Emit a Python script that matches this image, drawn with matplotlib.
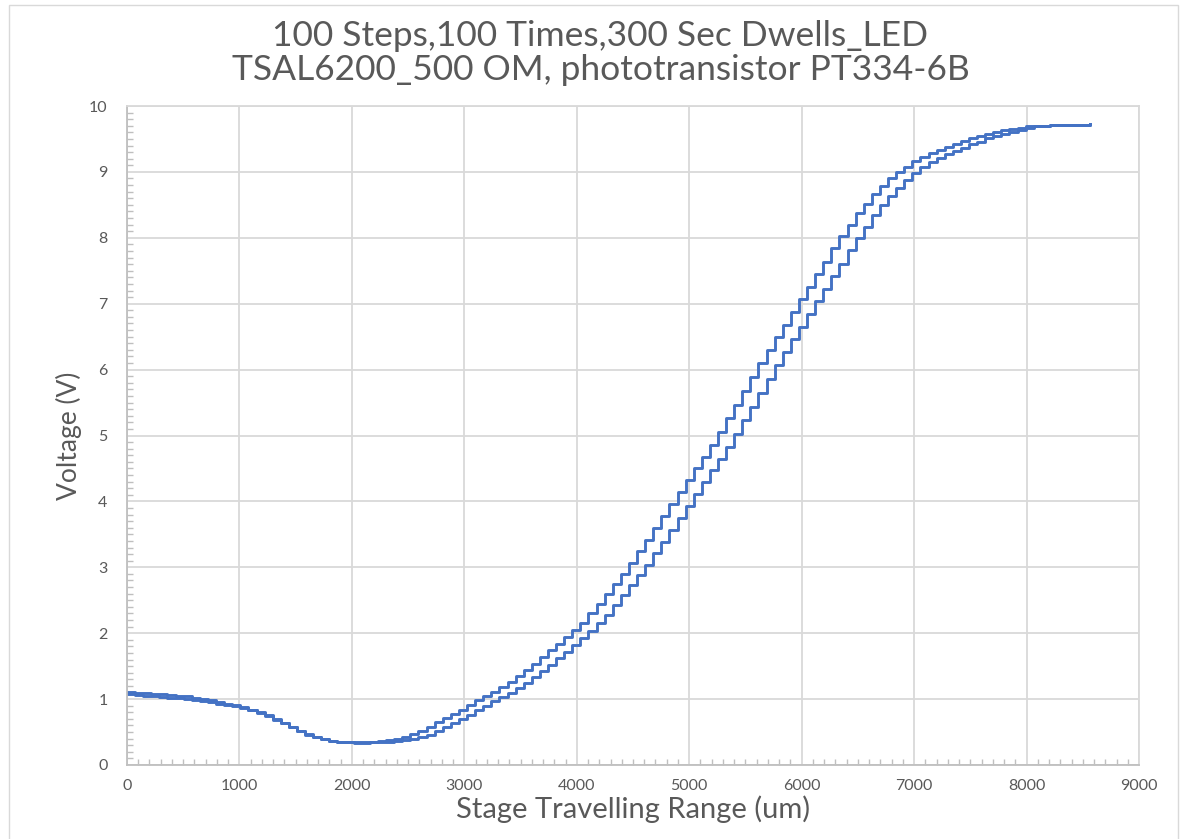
import numpy as np
import matplotlib
matplotlib.use('Agg')
import matplotlib.pyplot as plt
from matplotlib.patches import Rectangle
from matplotlib.ticker import MultipleLocator

# stage positions: one reading per stage step
step_um = 72
# voltage at each step, upper (left) curve
volt_a = [1.11, 1.10, 1.09, 1.08, 1.07, 1.06, 1.05, 1.04, 1.02, 1.00,
          0.98, 0.95, 0.93, 0.91, 0.88, 0.84, 0.80, 0.76, 0.70, 0.64,
          0.57, 0.51, 0.47, 0.42, 0.39, 0.37, 0.355, 0.347, 0.345, 0.348,
          0.355, 0.365, 0.38, 0.40, 0.43, 0.47, 0.52, 0.58, 0.65, 0.71,
          0.77, 0.84, 0.91, 0.98, 1.04, 1.11, 1.18, 1.26, 1.35, 1.44,
          1.54, 1.64, 1.74, 1.84, 1.94, 2.05, 2.16, 2.30, 2.45, 2.60,
          2.75, 2.90, 3.06, 3.24, 3.42, 3.60, 3.78, 3.96, 4.14, 4.32,
          4.50, 4.68, 4.86, 5.05, 5.26, 5.47, 5.68, 5.89, 6.10, 6.30,
          6.49, 6.68, 6.88, 7.07, 7.26, 7.45, 7.64, 7.84, 8.03, 8.20,
          8.37, 8.52, 8.66, 8.78, 8.90, 9.00, 9.08, 9.16, 9.22, 9.28,
          9.33, 9.38, 9.43, 9.47, 9.52, 9.55, 9.58, 9.61, 9.63, 9.65,
          9.67, 9.69, 9.695, 9.70, 9.705, 9.71, 9.71, 9.715, 9.715, 9.72]
# voltage at each step, lower (right) curve
volt_b = [1.07, 1.06, 1.05, 1.04, 1.03, 1.02, 1.01, 1.00, 0.99, 0.97,
          0.95, 0.93, 0.91, 0.89, 0.87, 0.83, 0.79, 0.75, 0.69, 0.63,
          0.57, 0.51, 0.46, 0.42, 0.39, 0.365, 0.35, 0.343, 0.34, 0.34,
          0.342, 0.345, 0.352, 0.36, 0.376, 0.395, 0.42, 0.46, 0.51, 0.57,
          0.63, 0.70, 0.76, 0.83, 0.90, 0.97, 1.03, 1.10, 1.17, 1.25,
          1.33, 1.43, 1.52, 1.62, 1.72, 1.82, 1.93, 2.03, 2.15, 2.28,
          2.43, 2.58, 2.73, 2.88, 3.04, 3.21, 3.39, 3.57, 3.75, 3.93,
          4.11, 4.29, 4.47, 4.65, 4.83, 5.02, 5.23, 5.44, 5.65, 5.86,
          6.07, 6.27, 6.46, 6.65, 6.85, 7.04, 7.23, 7.42, 7.61, 7.81,
          8.00, 8.17, 8.34, 8.50, 8.64, 8.76, 8.88, 8.98, 9.07, 9.15,
          9.21, 9.27, 9.32, 9.37, 9.42, 9.46, 9.51, 9.54, 9.58, 9.61,
          9.64, 9.67, 9.69, 9.70, 9.705, 9.71, 9.71, 9.715, 9.715, 9.72]

x_a = np.arange(len(volt_a)) * step_um
x_b = np.arange(len(volt_b)) * step_um

title1 = '100 Steps,100 Times,300 Sec Dwells_LED'
title2 = 'TSAL6200_500 OM, phototransistor PT334-6B'

plt.rcParams['font.family'] = ['Lato', 'DejaVu Sans']
grey = '#595959'
grid_c = '#d9d9d9'
blue = '#4472c4'

fig = plt.figure(figsize=(11.8, 8.39), dpi=100)
ax = fig.add_axes([127/1180, 1-765/839, 1012/1180, 659/839])

ax.plot(x_a, volt_a, drawstyle='steps-post', color=blue, lw=2.1)
ax.plot(x_b, volt_b, drawstyle='steps-post', color=blue, lw=2.1)

ax.set_xlim(0, 9000)
ax.set_ylim(0, 10)
ax.xaxis.set_major_locator(MultipleLocator(1000))
ax.xaxis.set_minor_locator(MultipleLocator(100))
ax.yaxis.set_major_locator(MultipleLocator(1))
ax.yaxis.set_minor_locator(MultipleLocator(0.1))
ax.grid(True, which='major', color=grid_c, lw=1.3)
ax.set_axisbelow(True)
for s in ax.spines.values():
    s.set_color(grid_c)
    s.set_linewidth(1.3)
ax.spines['left'].set_color('#bfbfbf')
ax.spines['bottom'].set_color('#bfbfbf')
ax.tick_params(which='both', direction='in', color='#bfbfbf', labelcolor=grey, labelsize=11.5)
ax.tick_params(which='major', length=0, pad=14)
ax.tick_params(which='minor', length=4, width=1)
ax.tick_params(axis='x', which='major', pad=10)

ax.set_xlabel('Stage Travelling Range (um)', fontsize=21, color=grey)
ax.xaxis.set_label_coords(0.5, -0.046)
ax.set_ylabel('Voltage (V)', fontsize=19, color=grey)
ax.yaxis.set_label_coords(-0.044, 0.5)

fig.text(600/1180, 1-36/839, title1, ha='center', va='center', fontsize=25.5, color=grey)
fig.text(601/1180, 1-70/839, title2, ha='center', va='center', fontsize=25.5, color=grey)

fig.patches.append(Rectangle((9/1180, -0.01), 1169/1180, 1-5/839+0.01, transform=fig.transFigure,
                             fill=False, edgecolor=grid_c, lw=1))

fig.savefig('out.png', dpi=100)
